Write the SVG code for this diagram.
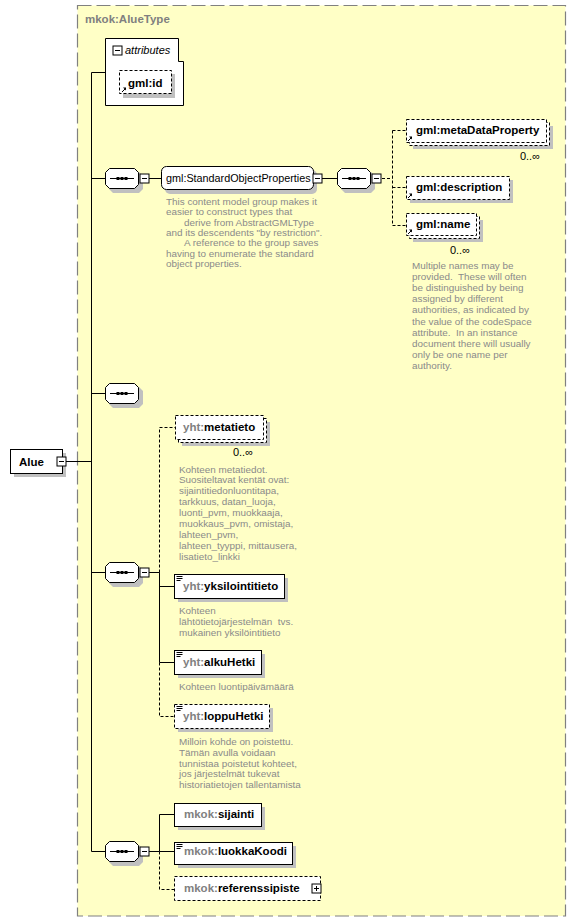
<svg xmlns="http://www.w3.org/2000/svg" xmlns:xlink="http://www.w3.org/1999/xlink" width="576" height="922" viewBox="0 0 576 922">
<style>
.box{fill:#fff;stroke:#000;stroke-width:1}
.opt{stroke-dasharray:3 2}
.sh{fill:#c0c0c0}
.lbl{font-family:"Liberation Sans",Arial,sans-serif;font-weight:bold;font-size:11.5px;fill:#000}
.pfx{fill:#808080}
.reg{font-family:"Liberation Sans",Arial,sans-serif;font-size:11px;fill:#000}
.ann{font-family:"Liberation Sans",Arial,sans-serif;font-size:9.9px;fill:#8a8a8a;white-space:pre}
.ln{stroke:#000;fill:none;stroke-width:1}
.dl{stroke-dasharray:3 2}
</style>
<defs>
<g id="seq">
<polygon class="sh" points="8,4 34,4 38,8 38,21 34,25 8,25 4,21 4,8"/>
<polygon class="box" points="4.5,0.5 29.5,0.5 33.5,4.5 33.5,16.5 29.5,20.5 4.5,20.5 0.5,16.5 0.5,4.5"/>
<line x1="5" y1="10.5" x2="29" y2="10.5" stroke="#000"/>
<rect x="11.5" y="9" width="3" height="3" fill="#000"/>
<rect x="15.5" y="9" width="3" height="3" fill="#000"/>
<rect x="19.5" y="9" width="3" height="3" fill="#000"/>
</g>
<g id="minus">
<rect x="0.5" y="0.5" width="9" height="9" class="box"/>
<line x1="2.5" y1="5" x2="7.5" y2="5" stroke="#000"/>
</g>
<g id="plus">
<rect x="0.5" y="0.5" width="9" height="9" class="box"/>
<line x1="2.5" y1="5" x2="7.5" y2="5" stroke="#000"/>
<line x1="5" y1="2.5" x2="5" y2="7.5" stroke="#000"/>
</g>
<g id="refarrow">
<line x1="0.5" y1="4.5" x2="3.5" y2="1.5" stroke="#000"/>
<polygon points="1.5,0 4.5,0 4.5,3" fill="#000"/>
</g>
<g id="doc">
<line x1="0" y1="0.5" x2="6" y2="0.5" stroke="#000"/>
<line x1="0" y1="2.5" x2="6" y2="2.5" stroke="#000"/>
<line x1="0" y1="4.5" x2="4" y2="4.5" stroke="#000"/>
</g>
</defs>

<rect id="type-bg" x="77.5" y="5.5" width="488" height="910.5" fill="#ffffc6" stroke="#808080" stroke-width="1.2" stroke-dasharray="14 5"/>
<text x="85" y="23" class="lbl" style="fill:#808080">mkok:AlueType</text>

<g id="connectors">
<path class="ln" d="M66,461.5 H91.5"/>
<path class="ln" d="M91.5,72.5 V851.5"/>
<path class="ln" d="M91.5,72.5 H105 M91.5,178.5 H105 M91.5,393.5 H105 M91.5,572.5 H105 M91.5,851.5 H105"/>
<path class="ln" d="M149,178.5 H161 M322,178.5 H337"/>
<path class="ln dl" d="M382,178.5 H392.5 M392.5,130.5 V225.5 M392.5,130.5 H406 M392.5,187.5 H406 M392.5,225.5 H406"/>
<path class="ln" d="M149,572.5 H159.5 V662.5 M159.5,586.5 H174 M159.5,662.5 H174"/>
<path class="ln dl" d="M159.5,572.5 V427.5 H175 M159.5,662.5 V716.5 H174"/>
<path class="ln" d="M149,851.5 H159.5 V814.5 H174 M159.5,851.5 H174"/>
<path class="ln dl" d="M159.5,851.5 V889.5 H174"/>
</g>

<g id="node-alue">
<rect class="sh" x="14" y="453" width="52" height="24"/>
<rect class="box" x="10.5" y="449.5" width="52" height="24"/>
<text x="19" y="466" class="lbl">Alue</text>
<use href="#minus" x="56.5" y="456.5"/>
</g>

<g id="node-attributes">
<path class="box" d="M105.5,38.5 H178.5 V61.5 H183.5 V105.5 H105.5 Z"/>
<use href="#minus" x="112.5" y="45.5"/>
<text x="125" y="54" font-family="Liberation Sans, Arial, sans-serif" font-size="11" font-style="italic">attributes</text>
</g>

<g id="node-gml-id">
<rect class="sh" x="123" y="74" width="52" height="24"/>
<rect class="box opt" x="119.5" y="70.5" width="52" height="23"/>
<use href="#refarrow" x="121.5" y="87.5"/>
<text x="128" y="87" class="lbl">gml:id</text>
</g>

<g id="seq-1"><use href="#seq" x="105" y="168"/><use href="#minus" x="139.5" y="173.5"/></g>

<g id="node-standardobjectproperties">
<rect class="sh" x="165" y="170" width="152" height="24" rx="5"/>
<rect class="box" x="161.5" y="166.5" width="152" height="23" rx="5"/>
<text x="166" y="181.5" class="reg" style="font-size:10.8px">gml:StandardObjectProperties</text>
<use href="#minus" x="312.5" y="173.5"/>
<text class="ann">
<tspan x="166" y="205">This content model group makes it</tspan>
<tspan x="166" y="215.3">easier to construct types that</tspan>
<tspan x="184" y="225.6">derive from AbstractGMLType</tspan>
<tspan x="166" y="235.9">and its descendents "by restriction".</tspan>
<tspan x="184" y="246.2">A reference to the group saves</tspan>
<tspan x="166" y="256.5">having to enumerate the standard</tspan>
<tspan x="166" y="266.8">object properties.</tspan>
</text>
</g>

<g id="seq-2"><use href="#seq" x="337" y="168"/><use href="#minus" x="371.5" y="173.5"/></g>

<g id="node-metadataproperty">
<rect class="sh" x="413" y="126" width="140" height="23"/>
<rect class="box opt" x="409.5" y="122.5" width="140" height="23"/>
<rect class="box opt" x="406.5" y="119.5" width="140" height="23"/>
<use href="#refarrow" x="407.5" y="136.5"/>
<text x="416" y="134" class="lbl">gml:metaDataProperty</text>
<text x="540" y="160" class="reg" text-anchor="end">0..∞</text>
</g>

<g id="node-description">
<rect class="sh" x="410" y="180" width="103" height="23"/>
<rect class="box opt" x="406.5" y="176.5" width="103" height="23"/>
<use href="#refarrow" x="407.5" y="193.5"/>
<text x="416" y="191" class="lbl">gml:description</text>
</g>

<g id="node-name">
<rect class="sh" x="413" y="220" width="70" height="22"/>
<rect class="box opt" x="409.5" y="216.5" width="70" height="22"/>
<rect class="box opt" x="406.5" y="213.5" width="70" height="22"/>
<use href="#refarrow" x="407.5" y="229.5"/>
<text x="416" y="228" class="lbl">gml:name</text>
<text x="470" y="254" class="reg" text-anchor="end">0..∞</text>
<text class="ann">
<tspan x="412" y="269">Multiple names may be</tspan>
<tspan x="412" y="280.1">provided.  These will often</tspan>
<tspan x="412" y="291.2">be distinguished by being</tspan>
<tspan x="412" y="302.3">assigned by different</tspan>
<tspan x="412" y="313.4">authorities, as indicated by</tspan>
<tspan x="412" y="324.5">the value of the codeSpace</tspan>
<tspan x="412" y="335.6">attribute.  In an instance</tspan>
<tspan x="412" y="346.7">document there will usually</tspan>
<tspan x="412" y="357.8">only be one name per</tspan>
<tspan x="412" y="368.9">authority.</tspan>
</text>
</g>

<g id="seq-3"><use href="#seq" x="105" y="383"/></g>

<g id="node-metatieto">
<rect class="sh" x="182" y="422" width="88" height="24"/>
<rect class="box opt" x="178.5" y="418.5" width="88" height="24"/>
<rect class="box opt" x="175.5" y="415.5" width="88" height="24"/>
<text x="183" y="431" class="lbl"><tspan class="pfx">yht:</tspan>metatieto</text>
<text x="253" y="456" class="reg" text-anchor="end">0..∞</text>
<text class="ann">
<tspan x="179" y="472.5">Kohteen metatiedot.</tspan>
<tspan x="179" y="483.4">Suositeltavat kentät ovat:</tspan>
<tspan x="179" y="494.3">sijaintitiedonluontitapa,</tspan>
<tspan x="179" y="505.2">tarkkuus, datan_luoja,</tspan>
<tspan x="179" y="516.1">luonti_pvm, muokkaaja,</tspan>
<tspan x="179" y="527">muokkaus_pvm, omistaja,</tspan>
<tspan x="179" y="537.9">lahteen_pvm,</tspan>
<tspan x="179" y="548.8">lahteen_tyyppi, mittausera,</tspan>
<tspan x="179" y="559.7">lisatieto_linkki</tspan>
</text>
</g>

<g id="seq-4"><use href="#seq" x="105" y="562"/><use href="#minus" x="139.5" y="567.5"/></g>

<g id="node-yksilointitieto">
<rect class="sh" x="178" y="578" width="110" height="24"/>
<rect class="box" x="174.5" y="574.5" width="110" height="24"/>
<use href="#doc" x="176.5" y="576"/>
<text x="183" y="590" class="lbl"><tspan class="pfx">yht:</tspan>yksilointitieto</text>
<text class="ann">
<tspan x="179" y="614">Kohteen</tspan>
<tspan x="179" y="624.8">lähtötietojärjestelmän  tvs.</tspan>
<tspan x="179" y="635.6">mukainen yksilöintitieto</tspan>
</text>
</g>

<g id="node-alkuhetki">
<rect class="sh" x="178" y="654" width="87" height="24"/>
<rect class="box" x="174.5" y="650.5" width="87" height="24"/>
<use href="#doc" x="176.5" y="652"/>
<text x="183" y="666" class="lbl"><tspan class="pfx">yht:</tspan>alkuHetki</text>
<text x="179" y="690" class="ann">Kohteen luontipäivämäärä</text>
</g>

<g id="node-loppuhetki">
<rect class="sh" x="178" y="708" width="95" height="24"/>
<rect class="box opt" x="174.5" y="704.5" width="95" height="24"/>
<use href="#doc" x="176.5" y="706"/>
<text x="183" y="720" class="lbl"><tspan class="pfx">yht:</tspan>loppuHetki</text>
<text class="ann">
<tspan x="179" y="745">Milloin kohde on poistettu.</tspan>
<tspan x="179" y="755.8">Tämän avulla voidaan</tspan>
<tspan x="179" y="766.6">tunnistaa poistetut kohteet,</tspan>
<tspan x="179" y="777.4">jos järjestelmät tukevat</tspan>
<tspan x="179" y="788.2">historiatietojen tallentamista</tspan>
</text>
</g>

<g id="seq-5"><use href="#seq" x="105" y="841"/><use href="#minus" x="139.5" y="846.5"/></g>

<g id="node-sijainti">
<rect class="sh" x="178" y="807" width="87" height="23"/>
<rect class="box" x="174.5" y="803.5" width="87" height="23"/>
<text x="184" y="818" class="lbl"><tspan class="pfx">mkok:</tspan>sijainti</text>
</g>

<g id="node-luokkakoodi">
<rect class="sh" x="178" y="846" width="118" height="22"/>
<rect class="box" x="174.5" y="842.5" width="118" height="22"/>
<use href="#doc" x="176.5" y="844"/>
<text x="184" y="855" class="lbl"><tspan class="pfx">mkok:</tspan>luokkaKoodi</text>
</g>

<g id="node-referenssipiste">
<rect class="box opt" x="174.5" y="876.5" width="146" height="24"/>
<text x="184" y="892" class="lbl"><tspan class="pfx">mkok:</tspan>referenssipiste</text>
<use href="#plus" x="311.5" y="883.5"/>
</g>
</svg>
